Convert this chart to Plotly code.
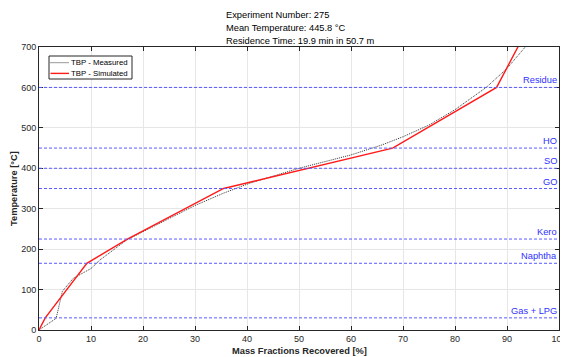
import plotly.graph_objects as go

# Measured TBP
meas_x = [0, 3.3, 4.5, 6.6, 10, 11.7, 16.9, 25, 30, 35.4, 40.5, 50, 60, 66, 70, 75, 80, 86, 90, 93.5]
meas_y = [0, 29, 96, 128, 152, 173, 223, 275, 308, 338, 363, 400, 433, 458, 478, 507, 545, 600, 647, 700]
# Simulated TBP
sim_x = [0, 1.2, 9.2, 17, 35.5, 68, 88, 92.5]
sim_y = [0, 30, 165, 225, 350, 450, 600, 710]

cut_names = ["Residue", "HO", "SO", "GO", "Kero", "Naphtha", "Gas + LPG"]
cut_temps = [600, 450, 400, 350, 225, 165, 30]

series_names = ["TBP - Measured", "TBP - Simulated"]
title_lines = ["Experiment Number: 275", "Mean Temperature: 445.8 °C",
               "Residence Time: 19.9 min in 50.7 m"]

font = "Liberation Sans, Arial, sans-serif"
FS = 9.3
OFF = 8  # page body margin
W, H = 568 - OFF, 357 - OFF
L, R, T, B = 39 - OFF, 9, 47 - OFF, 27
pw, ph = W - L - R, H - T - B

def px2paper(px, py):
    # px, py in reference-image pixels
    return (px - OFF - L) / pw, 1 - (py - OFF - T) / ph

fig = go.Figure()

for t in cut_temps:
    fig.add_shape(type="line", xref="paper", x0=0, x1=1, yref="y", y0=t, y1=t,
                  line=dict(color="#5a5aff", width=1, dash="3px,2px"))
for name, t in zip(cut_names, cut_temps):
    fig.add_annotation(x=1, xref="paper", y=t, yref="y", text=name, showarrow=False,
                       xanchor="right", yanchor="bottom", xshift=0, yshift=0,
                       font=dict(family=font, size=FS, color="#3030ff"))

fig.add_trace(go.Scatter(x=meas_x, y=meas_y, mode="lines", name=series_names[0],
                         showlegend=False,
                         line=dict(color="#333333", width=1, dash="1px,1px")))
fig.add_trace(go.Scatter(x=sim_x, y=sim_y, mode="lines", name=series_names[1],
                         showlegend=False,
                         line=dict(color="#ff1a1a", width=1.4)))

# manual compact legend
x0, y0 = px2paper(49, 56)
x1, y1 = px2paper(132, 79)
fig.add_shape(type="rect", xref="paper", yref="paper", x0=x0, x1=x1, y0=y1, y1=y0,
              line=dict(color="#262626", width=1), fillcolor="white")
styles = [dict(color="#333333", width=1, dash="1px,1px"), dict(color="#ff1a1a", width=1.4)]
for i, (nm, st) in enumerate(zip(series_names, styles)):
    py = 62.7 + i * 10.7
    lx0, ly = px2paper(50.5, py)
    lx1, _ = px2paper(69, py)
    fig.add_shape(type="line", xref="paper", yref="paper", x0=lx0, x1=lx1, y0=ly, y1=ly,
                  line=st)
    tx, _ = px2paper(69.5, py)
    fig.add_annotation(x=tx, xref="paper", y=ly, yref="paper", text=nm, showarrow=False,
                       xanchor="left", yanchor="middle", borderpad=0,
                       font=dict(family=font, size=7.8, color="black"))

# title block: left-aligned lines, block centred over the axes
tx0, _ = px2paper(224, 0)
for i, line in enumerate(title_lines):
    _, ty = px2paper(0, 15.3 + i * 12.7)
    fig.add_annotation(x=tx0, xref="paper", y=ty, yref="paper", text=line,
                       showarrow=False, xanchor="left", yanchor="middle",
                       font=dict(family=font, size=FS, color="black"))

_, xty = px2paper(0, 351)
fig.add_annotation(x=0.5, xref="paper", y=xty, yref="paper",
                   text="<b>Mass Fractions Recovered [%]</b>", showarrow=False,
                   xanchor="center", yanchor="middle",
                   font=dict(family=font, size=FS, color="#262626"))
ytx, _ = px2paper(13.5, 0)
fig.add_annotation(x=ytx, xref="paper", y=0.5, yref="paper",
                   text="<b>Temperature [°C]</b>", showarrow=False, textangle=-90,
                   xanchor="center", yanchor="middle",
                   font=dict(family=font, size=FS, color="#262626"))

axis_common = dict(showline=True, linecolor="#262626", linewidth=1, mirror="allticks",
                   ticks="inside", ticklen=4, tickcolor="#262626", automargin=False,
                   showgrid=True, gridcolor="#e6e6e6", gridwidth=1, zeroline=False,
                   tickfont=dict(family=font, size=9, color="#262626"))

fig.update_xaxes(range=[0, 100], dtick=10, **axis_common)
fig.update_yaxes(range=[0, 700], dtick=100, **axis_common)

fig.update_layout(
    width=W, height=H,
    margin=dict(l=L, r=R, t=T, b=B),
    plot_bgcolor="white", paper_bgcolor="white",
    showlegend=False,
)

fig.write_html("out.html")
